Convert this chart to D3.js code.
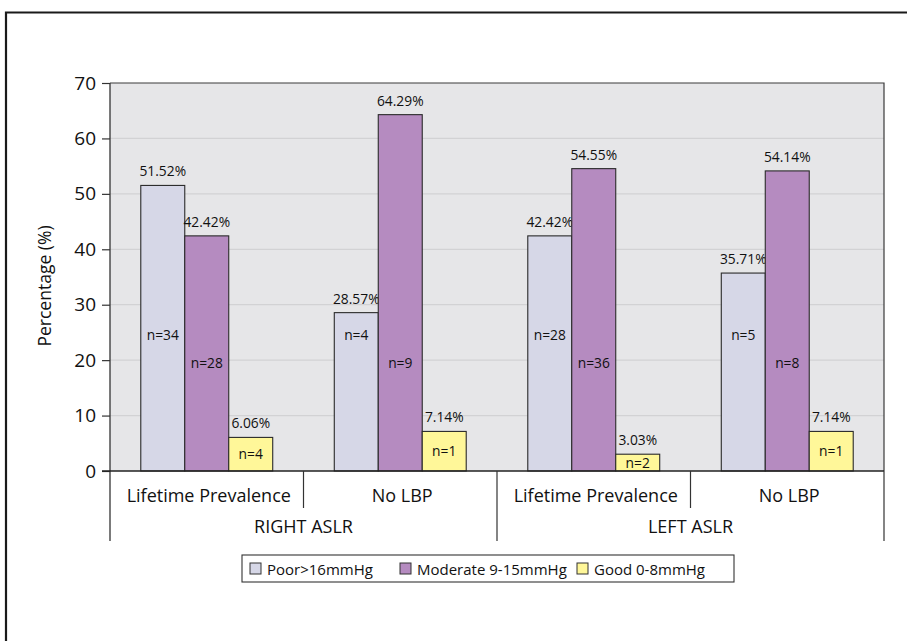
<!DOCTYPE html>
<html>
<head>
<meta charset="utf-8">
<script src="https://cdn.jsdelivr.net/npm/d3@7"></script>
<style>
  html, body { margin: 0; padding: 0; background: #fff; }
  svg { display: block; font-family: "Open Sans", "Noto Sans", sans-serif; }
</style>
</head>
<body>
<svg id="chart" width="907" height="641"></svg>
<script>
// Groups along the x axis (outer / inner)
const sides = ["RIGHT ASLR", "LEFT ASLR"];
const subgroups = ["Lifetime Prevalence", "No LBP"];
const series = ["Poor>16mmHg", "Moderate 9-15mmHg", "Good 0-8mmHg"];

// Percentages per group, in order: Right-Lifetime, Right-NoLBP, Left-Lifetime, Left-NoLBP
const poorPct = [51.52, 28.57, 42.42, 35.71];
const moderatePct = [42.42, 64.29, 54.55, 54.14];
const goodPct = [6.06, 7.14, 3.03, 7.14];

// Counts shown inside the bars
const poorN = [34, 4, 28, 5];
const moderateN = [28, 9, 36, 8];
const goodN = [4, 1, 2, 1];

const yTicks = [0, 10, 20, 30, 40, 50, 60, 70];
const colors = ["#d6d7e7", "#b58bc0", "#fff799"];

const pctBySeries = [poorPct, moderatePct, goodPct];
const nBySeries = [poorN, moderateN, goodN];

const groups = [];
sides.forEach(s => subgroups.forEach(g => groups.push({ side: s, sub: g, key: s + "|" + g })));

const svg = d3.select("#chart");

// outer frame
svg.append("path")
  .attr("d", "M6,650 L6,12.5 L920,12.5")
  .attr("fill", "none").attr("stroke", "#1a1a1a").attr("stroke-width", 2.2);

const plotL = 110, plotR = 884, plotT = 83, plotB = 471;

const x0 = d3.scaleBand().domain(groups.map(d => d.key)).range([plotL, plotR]).paddingInner(0).paddingOuter(0);
const x1 = d3.scaleBand().domain(series).range([0, x0.bandwidth()]).paddingInner(0).paddingOuter(0.7);
const y = d3.scaleLinear().domain([0, 70]).range([plotB, plotT]);

// plot background
svg.append("rect")
  .attr("x", plotL).attr("y", plotT).attr("width", plotR - plotL).attr("height", plotB - plotT)
  .attr("fill", "#e6e6e8");

// gridlines
svg.append("g").selectAll("line")
  .data(yTicks.filter(t => t > 0 && t < 70))
  .join("line")
  .attr("x1", plotL).attr("x2", plotR)
  .attr("y1", d => y(d)).attr("y2", d => y(d))
  .attr("stroke", "#d2d2d4").attr("stroke-width", 1.2);

// plot border top & right
svg.append("path")
  .attr("d", `M${plotL},${plotT} L${plotR},${plotT} L${plotR},${plotB}`)
  .attr("fill", "none").attr("stroke", "#3a3a3a").attr("stroke-width", 1.2);

// y axis
const yAxis = d3.axisLeft(y).tickValues(yTicks).tickSize(8).tickPadding(6).tickFormat(d3.format("d"));
const gy = svg.append("g").attr("transform", `translate(${plotL},0)`).call(yAxis);
gy.attr("font-size", 19).attr("font-family", "Open Sans, sans-serif");
gy.select(".domain").remove();
gy.selectAll(".tick line").attr("stroke", "#333").attr("stroke-width", 1.2);
gy.selectAll(".tick text").attr("fill", "#111");

// count labels sit at a fixed level inside the first two series, centred in the short bars
const countLevel = [24.5, 19.5, null];

// bars
const barG = svg.append("g");
groups.forEach((g, gi) => {
  series.forEach((s, si) => {
    const v = pctBySeries[si][gi];
    const bx = x0(g.key) + x1(s);
    const bw = x1.bandwidth();
    barG.append("rect")
      .attr("x", bx).attr("y", y(v))
      .attr("width", bw).attr("height", y(0) - y(v))
      .attr("fill", colors[si]).attr("stroke", "#2a2a2a").attr("stroke-width", 1.1);
    barG.append("text")
      .attr("x", bx + bw / 2).attr("y", y(v) - 9)
      .attr("text-anchor", "middle").attr("font-size", 13.8).attr("fill", "#111")
      .text(v.toFixed(2) + "%");
    const cy = countLevel[si] === null ? (y(v) + y(0)) / 2 : y(countLevel[si]);
    barG.append("text")
      .attr("x", bx + bw / 2).attr("y", cy + 5)
      .attr("text-anchor", "middle").attr("font-size", 13.8).attr("fill", "#111")
      .text("n=" + nBySeries[si][gi]);
  });
});

// y axis line, extended below as group divider
svg.append("line").attr("x1", plotL).attr("x2", plotL).attr("y1", plotT).attr("y2", 541)
  .attr("stroke", "#333").attr("stroke-width", 1.3);

// x baseline
svg.append("line").attr("x1", plotL - 8).attr("x2", plotR).attr("y1", plotB).attr("y2", plotB)
  .attr("stroke", "#222").attr("stroke-width", 1.3);

// category dividers
const catLines = svg.append("g").attr("stroke", "#333").attr("stroke-width", 1.2);
groups.forEach((g, gi) => {
  const xr = x0(g.key) + x0.bandwidth();
  const isSideEnd = gi % 2 === 1;
  catLines.append("line")
    .attr("x1", xr).attr("x2", xr).attr("y1", plotB)
    .attr("y2", isSideEnd ? 541 : 508);
});

// inner category labels
svg.append("g").selectAll("text").data(groups).join("text")
  .attr("x", d => x0(d.key) + x0.bandwidth() / 2 + 2)
  .attr("y", 502)
  .attr("text-anchor", "middle").attr("font-size", 18).attr("fill", "#111")
  .text(d => d.sub);

// outer labels
svg.append("g").selectAll("text").data(sides).join("text")
  .attr("x", d => x0(d + "|" + subgroups[0]) + x0.bandwidth())
  .attr("y", 533)
  .attr("text-anchor", "middle").attr("font-size", 18).attr("fill", "#111")
  .text(d => d);

// y axis title
svg.append("text")
  .attr("transform", `translate(51,${(plotT + plotB) / 2 + 9}) rotate(-90)`)
  .attr("text-anchor", "middle").attr("font-size", 17.5).attr("fill", "#111")
  .text("Percentage (%)");

// legend
const lg = svg.append("g");
lg.append("rect").attr("x", 242).attr("y", 555).attr("width", 492).attr("height", 27)
  .attr("fill", "#fff").attr("stroke", "#333").attr("stroke-width", 1.1);
const legendX = [250, 400, 577];
series.forEach((s, i) => {
  lg.append("rect").attr("x", legendX[i]).attr("y", 563).attr("width", 11).attr("height", 11)
    .attr("fill", colors[i]).attr("stroke", "#333").attr("stroke-width", 1);
  lg.append("text").attr("x", legendX[i] + 17).attr("y", 574.5)
    .attr("font-size", 15).attr("fill", "#111").text(s);
});
</script>
</body>
</html>
